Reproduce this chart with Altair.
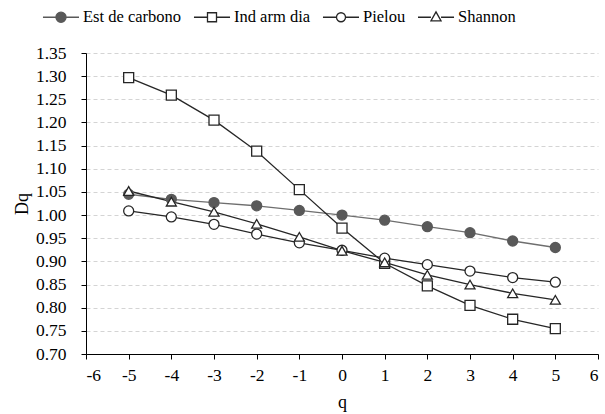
import altair as alt
import pandas as pd

q = [-5, -4, -3, -2, -1, 0, 1, 2, 3, 4, 5]
series_names = ["Est de carbono", "Ind arm dia", "Pielou", "Shannon"]
est_carbono = [1.045, 1.034, 1.027, 1.020, 1.010, 1.000, 0.989, 0.975, 0.962, 0.944, 0.930]
ind_arm_dia = [1.297, 1.259, 1.205, 1.138, 1.055, 0.972, 0.896, 0.847, 0.805, 0.775, 0.755]
pielou = [1.009, 0.996, 0.980, 0.959, 0.940, 0.924, 0.907, 0.893, 0.879, 0.865, 0.855]
shannon = [1.052, 1.029, 1.007, 0.981, 0.953, 0.923, 0.898, 0.871, 0.850, 0.831, 0.817]

y_ticks = [round(0.70 + 0.05 * i, 2) for i in range(14)]
x_ticks = list(range(-6, 7))

rows = []
for name, vals in zip(series_names, [est_carbono, ind_arm_dia, pielou, shannon]):
    for qi, v in zip(q, vals):
        rows.append({"q": qi, "Dq": v, "serie": name})
df = pd.DataFrame(rows)

FONT = "Liberation Serif"
line_colors = ["#6e6e6e", "#262626", "#262626", "#262626"]
fill_colors = ["#595959", "white", "white", "white"]
stroke_colors = ["#595959", "#262626", "#262626", "#262626"]

axis_style = dict(
    labelFont=FONT, labelFontSize=17.5, labelColor="black",
    titleFont=FONT, titleFontSize=18, titleFontWeight="normal", titleColor="black",
    domainColor="black", tickColor="black", domainWidth=1, tickWidth=1, tickSize=5,
)

x_enc = alt.X("q:Q", title="q",
              scale=alt.Scale(domain=[-6, 6], nice=False),
              axis=alt.Axis(values=x_ticks, grid=False, labelPadding=7, titlePadding=10,
                            labelExpr="datum.value < 0 ? '-' + abs(datum.value) : '' + datum.value",
                            **axis_style))
y_enc = alt.Y("Dq:Q", title="Dq",
              scale=alt.Scale(domain=[0.70, 1.35], nice=False, zero=False),
              axis=alt.Axis(values=y_ticks, format=".2f",
                            grid=True, gridDash=[4, 3], gridColor="#d4d4d4",
                            labelPadding=15, titlePadding=4, **axis_style))

base = alt.Chart(df)

lines = base.mark_line(strokeWidth=1.3).encode(
    x=x_enc, y=y_enc,
    color=alt.Color("serie:N", scale=alt.Scale(domain=series_names, range=line_colors), legend=None),
    detail="serie:N",
)

points = base.mark_point(filled=True, size=100, strokeWidth=1.3, opacity=1).encode(
    x=x_enc, y=y_enc,
    shape=alt.Shape("serie:N", scale=alt.Scale(domain=series_names,
                    range=["circle", "square", "circle", "triangle-up"]), legend=None),
    fill=alt.Fill("serie:N", scale=alt.Scale(domain=series_names, range=fill_colors), legend=None),
    stroke=alt.Stroke("serie:N", scale=alt.Scale(domain=series_names, range=stroke_colors), legend=None),
)

# legend symbols: a short line with the marker in the middle
legend_paths = [
    "M-1,0H-0.28M0.28,0H1M-0.28,0A0.28,0.28,0,1,1,0.28,0A0.28,0.28,0,1,1,-0.28,0Z",
    "M-1,0H-0.25M0.25,0H1M-0.25,-0.25H0.25V0.25H-0.25Z",
    "M-1,0H-0.25M0.25,0H1M-0.25,0A0.25,0.25,0,1,1,0.25,0A0.25,0.25,0,1,1,-0.25,0Z",
    "M-1,0H-0.28M0.28,0H1M0,-0.3L0.28,0.2H-0.28Z",
]

legend_layer = base.transform_filter("datum.q > 100").mark_point(filled=True, strokeWidth=1.3).encode(
    x=x_enc, y=y_enc,
    shape=alt.Shape("serie:N", scale=alt.Scale(domain=series_names, range=legend_paths),
                    legend=alt.Legend(title=None, orient="none", direction="horizontal",
                                      legendX=-44, legendY=-55, symbolSize=1300,
                                      symbolStrokeWidth=1.3, labelFont=FONT, labelFontSize=16.5,
                                      labelColor="black", labelOffset=3, columnPadding=9,
                                      symbolOpacity=1)),
    fill=alt.Fill("serie:N", scale=alt.Scale(domain=series_names, range=fill_colors)),
    stroke=alt.Stroke("serie:N", scale=alt.Scale(domain=series_names, range=stroke_colors)),
)

chart = alt.layer(lines, points, legend_layer).resolve_scale(
    shape="independent", fill="independent", stroke="independent"
).properties(
    width=512, height=301,
    autosize=alt.AutoSizeParams(type="none"),
    padding={"left": 86, "top": 53, "right": 7, "bottom": 60},
).configure(
    font=FONT, background="white"
).configure_axis(
    labelFont=FONT, titleFont=FONT
).configure_legend(
    labelFont=FONT
).configure_view(stroke=None)

chart.save("out.html", embed_options={"renderer": "svg", "actions": False})
